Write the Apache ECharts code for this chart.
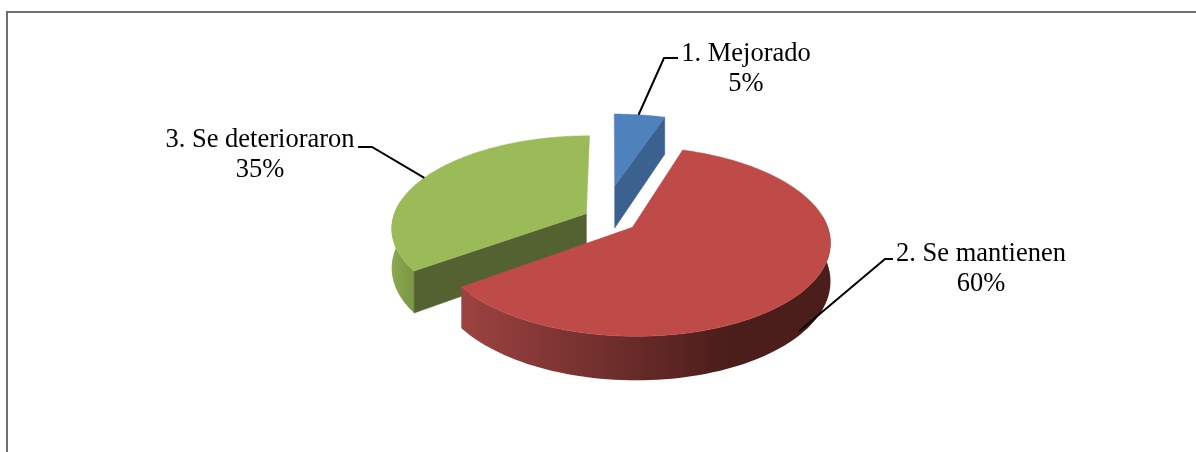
<!DOCTYPE html>
<html><head><meta charset="utf-8">
<style>html,body{margin:0;padding:0;background:#fff}#c{width:1196px;height:452px}</style>
<script src="https://cdn.jsdelivr.net/npm/echarts@6/dist/echarts.min.js"></script>
</head><body><div id="c"></div>
<script>
const categories = ['1. Mejorado', '2. Se mantienen', '3. Se deterioraron'];
const values = [5, 60, 35];
const percentLabels = ['5%', '60%', '35%'];
const topColors = ['#4F81BD', '#BE4B48', '#9BBB59'];
const cutColors = ['#3B618F', '#8F3A38', '#546130'];
const wallColors = [['#3B618F', '#3B618F'], ['#9C4341', '#4B1D1B'], ['#8CAA50', '#7E9A46']];
// layout: explosion of each slice in pie-radius units [x, depth]
const explode = [[0.02, 0.39], [0.108, -0.079], [-0.127, 0.07]];
const sliceScale = [1, 0.985, 0.99];
const depthScale = [1.2, 1, 1.05];
// label layout: text centre, knee and end of the leader
const labelCentres = [[746, 69], [981, 269], [260, 155]];
const leaderKnees = [[[664, 58], [678, 58]], [[885, 259], [893, 259]], [[372, 147], [358, 147]]];
const leaderAnchorDrop = [0, 0.9, 0];
const leaderAngleShift = [-0.007, 0.08, -0.03];

const CX = 611, CY = 220, R = 196, RY = 92, P = 0.149, DEPTH = 37;
const total = values.reduce((a, b) => a + b, 0);
const zOrder = { 0: 10, 2: 20, 1: 30 };

function project(X, Z, drop) {
  const s = 1 / (1 + P * Z);
  return [CX + R * X * s, CY - RY * Z * s + (drop || 0) * DEPTH * s];
}
function rim(i, a, drop) {
  const k = sliceScale[i];
  return project(explode[i][0] + k * Math.sin(a), explode[i][1] + k * Math.cos(a), (drop || 0) * depthScale[i]);
}
function apex(i, drop) { return project(explode[i][0], explode[i][1], (drop || 0) * depthScale[i]); }

function renderItem(params, api) {
  const i = params.dataIndex;
  const before = values.slice(0, i).reduce((a, b) => a + b, 0);
  const a0 = before / total * 2 * Math.PI;
  const a1 = (before + api.value(1)) / total * 2 * Math.PI;
  const n = 120;
  const arc = [];
  for (let k = 0; k <= n; k++) arc.push(a0 + (a1 - a0) * k / n);
  const z = zOrder[i];
  const kids = [];
  const poly = (pts, fill, dz) => kids.push({ type: 'polygon', z2: z + dz, shape: { points: pts }, style: { fill: fill, stroke: typeof fill === 'string' ? fill : null, lineWidth: 0.5 } });

  // outer wall: the part of the rim that faces the viewer
  const wallAngles = arc.filter(a => Math.cos(a) < 0.149);
  if (wallAngles.length > 1) {
    const upper = wallAngles.map(a => rim(i, a, 0));
    const lower = wallAngles.map(a => rim(i, a, 1)).reverse();
    const xs = upper.map(p => p[0]);
    const x0 = Math.min(...xs), x1 = Math.max(...xs);
    poly(upper.concat(lower), new echarts.graphic.LinearGradient(x0, 0, x1, 0, [
      { offset: 0, color: wallColors[i][0] },
      { offset: 0.72, color: wallColors[i][1] },
      { offset: 1, color: wallColors[i][1] }
    ], true), 1);
  }
  // cut face visible at the end or start of the slice
  if (i === 0) poly([apex(i, 0), rim(i, a1, 0), rim(i, a1, 1), apex(i, 1)], cutColors[i], 2);
  if (i === 2) poly([apex(i, 0), rim(i, a0, 0), rim(i, a0, 1), apex(i, 1)], cutColors[i], 2);
  // top face
  poly([apex(i, 0)].concat(arc.map(a => rim(i, a, 0))), topColors[i], 3);

  // leader line + label
  const mid = (a0 + a1) / 2 + leaderAngleShift[i];
  const start = rim(i, mid, leaderAnchorDrop[i]);
  kids.push({ type: 'polyline', z2: 40, shape: { points: [start].concat(leaderKnees[i]) }, style: { fill: null, stroke: '#000', lineWidth: 2 } });
  const c = labelCentres[i];
  kids.push({ type: 'text', z2: 41, style: { text: api.value(0) + '\n' + percentLabels[i], x: c[0], y: c[1], align: 'center', verticalAlign: 'middle', fill: '#000', font: '26.5px "Liberation Serif"', lineHeight: 30 } });
  return { type: 'group', children: kids };
}

const chart = echarts.init(document.getElementById('c'), null, { renderer: 'canvas' });
chart.setOption({
  animation: false,
  backgroundColor: '#fff',
  graphic: [{ type: 'rect', z: -1, shape: { x: 7, y: 12, width: 1300, height: 470 }, style: { fill: '#fff', stroke: '#707070', lineWidth: 2 } }],
  series: [{
    type: 'custom',
    coordinateSystem: 'none',
    renderItem: renderItem,
    data: categories.map((c, i) => [c, values[i]]),
    encode: { itemName: 0, value: 1 }
  }]
});
</script></body></html>
